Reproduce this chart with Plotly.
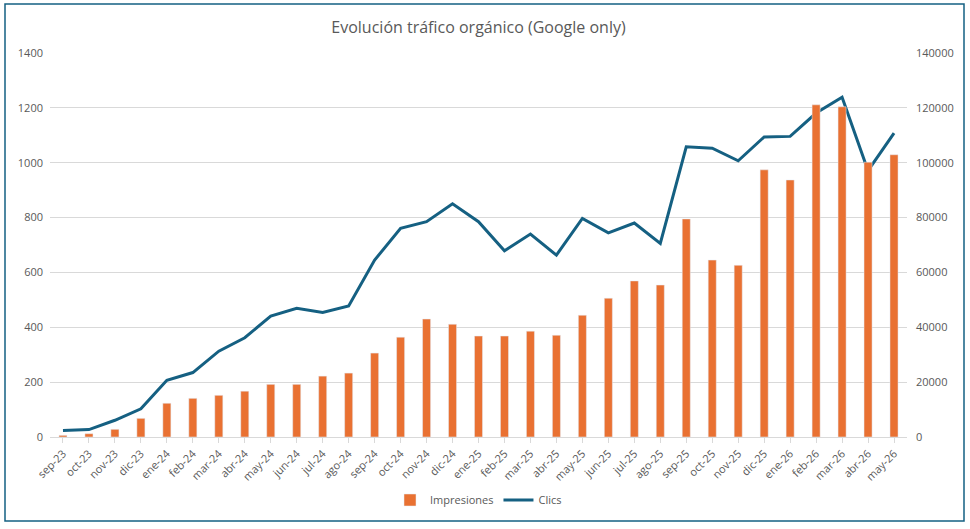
import plotly.graph_objects as go

meses = ["sep-23", "oct-23", "nov-23", "dic-23", "ene-24", "feb-24", "mar-24", "abr-24",
         "may-24", "jun-24", "jul-24", "ago-24", "sep-24", "oct-24", "nov-24", "dic-24",
         "ene-25", "feb-25", "mar-25", "abr-25", "may-25", "jun-25", "jul-25", "ago-25",
         "sep-25", "oct-25", "nov-25", "dic-25", "ene-26", "feb-26", "mar-26", "abr-26",
         "may-26"]

impresiones = [600, 1200, 2800, 6800, 12300, 14100, 15200, 16700,
               19200, 19200, 22200, 23300, 30600, 36400, 43000, 41100,
               36800, 36800, 38600, 37100, 44400, 50600, 56900, 55400,
               79500, 64500, 62600, 97400, 93700, 121100, 120400, 100200,
               102900]

clics = [24, 27, 61, 103, 207, 235, 313, 362,
         441, 469, 454, 478, 645, 761, 785, 850,
         785, 679, 740, 663, 797, 744, 780, 706,
         1058, 1053, 1007, 1094, 1096, 1181, 1239, 971,
         1108]

left_ticks = [0, 200, 400, 600, 800, 1000, 1200, 1400]
right_ticks = [0, 20000, 40000, 60000, 80000, 100000, 120000, 140000]

ORANGE = "#E97132"
TEAL = "#156082"
GREY = "#595959"
FONT = "Open Sans"

fig = go.Figure()
fig.add_trace(go.Bar(x=meses, y=impresiones, name="Impresiones", marker_color=ORANGE,
                     yaxis="y2", width=0.31))
fig.add_trace(go.Scatter(x=meses, y=clics, name="Clics", mode="lines",
                         line=dict(color=TEAL, width=3), yaxis="y"))

L, R, T, B = 50, 63, 53, 92
W, H = 970, 529
pw, ph = W - L - R, H - T - B

def px_x(p):
    return (p - L) / pw

def px_y(p):
    return (H - B - p) / ph

fig.update_layout(
    width=W, height=H,
    margin=dict(l=L, r=R, t=T, b=B),
    paper_bgcolor="white", plot_bgcolor="white",
    font=dict(family=FONT, color=GREY, size=11),
    title=dict(text="Evolución tráfico orgánico (Google only)", x=0.5, xref="paper",
               y=1 - 27 / H, yanchor="middle", xanchor="center",
               font=dict(size=16, color=GREY, family=FONT)),
    xaxis=dict(type="category", tickangle=-45, showgrid=False, showline=True,
               linecolor="#D9D9D9", ticks="outside", ticklen=5, tickcolor="#D9D9D9",
               tickfont=dict(size=11, color=GREY), range=[-0.5, len(meses) - 0.5]),
    yaxis=dict(range=[0, 1400], tickvals=left_ticks, ticktext=[str(v) for v in left_ticks],
               showgrid=True, gridcolor="#D9D9D9",
               gridwidth=1, zeroline=False, tickfont=dict(size=11, color=GREY),
               ticks="", ticklabelstandoff=6),
    yaxis2=dict(range=[0, 140000], tickvals=right_ticks, ticktext=[str(v) for v in right_ticks],
                overlaying="y", side="right",
                showgrid=False, zeroline=False, tickfont=dict(size=11, color=GREY),
                ticks="", ticklabelstandoff=8),
    legend=dict(orientation="h", x=0.5, xanchor="center", y=px_y(500), yanchor="middle",
                font=dict(size=11, color=GREY), itemwidth=30, traceorder="normal"),
    bargap=0.69,
    showlegend=True,
)

fig.add_shape(type="rect", xref="paper", yref="paper",
              x0=px_x(5), x1=px_x(964), y0=px_y(521), y1=px_y(4),
              line=dict(color=TEAL, width=1.5), fillcolor="rgba(0,0,0,0)", layer="below")

fig.write_html("out.html")
